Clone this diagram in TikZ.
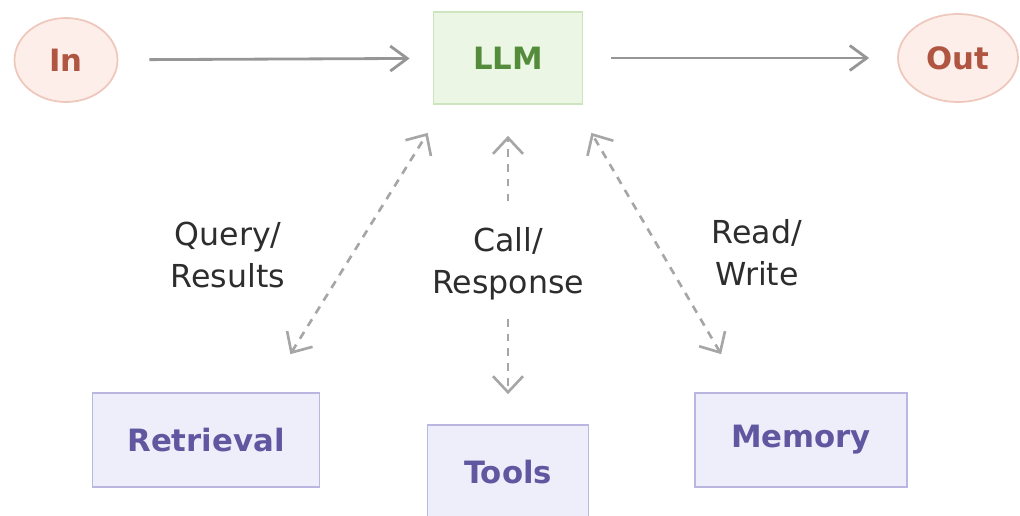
\documentclass[tikz,border=0pt]{standalone}
\usepackage{fontspec}
\setmainfont{DejaVu Sans}
\usepackage{tikz}
\usetikzlibrary{shapes.geometric, arrows.meta, positioning, calc}
\definecolor{termfill}{RGB}{253, 238, 233}
\definecolor{termline}{RGB}{238, 200, 188}
\definecolor{termtext}{RGB}{175, 85, 65}
\definecolor{llmfill}{RGB}{236, 246, 228}
\definecolor{llmline}{RGB}{205, 228, 190}
\definecolor{llmtext}{RGB}{85, 140, 60}
\definecolor{toolfill}{RGB}{238, 237, 250}
\definecolor{toolline}{RGB}{185, 182, 225}
\definecolor{tooltext}{RGB}{95, 88, 160}
\definecolor{arrgray}{RGB}{150, 150, 150}
\definecolor{lblgray}{RGB}{45, 45, 45}

\begin{document}
\begin{tikzpicture}[
    x=0.02cm, y=-0.02cm,
    term/.style={ellipse, draw=termline, fill=termfill, line width=1pt,
                 inner sep=0pt, text=termtext,
                 font=\fontsize{17.5}{22}\selectfont\bfseries},
    core/.style={draw=llmline, fill=llmfill, line width=1pt, inner sep=0pt,
                 text=llmtext, font=\fontsize{17.5}{22}\selectfont\bfseries},
    tool/.style={draw=toolline, fill=toolfill, line width=1pt, inner sep=0pt,
                 text=tooltext, font=\fontsize{17.5}{22}\selectfont\bfseries,
                 minimum height=1.88cm},
    lbl/.style={align=center, text=lblgray, font=\fontsize{18}{24}\selectfont},
    arr/.style={-{Straight Barb[length=3.4mm, width=5mm]}, line width=1.6pt,
                color=arrgray},
    darr/.style={-{Straight Barb[length=3.2mm, width=6mm]}, line width=1.5pt,
                 color=arrgray!85, dash pattern=on 4.5pt off 4pt},
    ddarr/.style={darr, {Straight Barb[length=3.2mm, width=6mm]}-{Straight Barb[length=3.2mm, width=6mm]}},
]
    \useasboundingbox (0,0) rectangle (1020,515);

    \node[term, minimum width=2.06cm, minimum height=1.68cm] (in)  at (66,60)  {In};
    \node[core, minimum width=2.98cm, minimum height=1.84cm] (llm) at (508,58) {LLM};
    \node[term, minimum width=2.4cm,  minimum height=1.76cm] (out) at (958,58) {Out};

    \node[tool, minimum width=4.54cm] (ret) at (206,440) {Retrieval};
    \node[tool, minimum width=3.22cm] (tls) at (508,472) {Tools};
    \node[tool, minimum width=4.24cm] (mem) at (801,440) {Memory};

    \node[lbl] (qr)   at (228,255) {Query/\\Results};
    \node[lbl] (call) at (508,264) {Call/\\Response};
    \node[lbl] (rw)   at (757,253) {Read/\\Write};

    \draw[arr, shorten <=0.62cm, shorten >=0.46cm] (in) -- (llm);
    \draw[arr, shorten <=0.56cm, shorten >=0.56cm] (llm) -- (out);

    \draw[ddarr] ([shift={(-30,-38)}]ret.north east) -- ([shift={(-5,28)}]llm.south west);
    \draw[darr] ([shift={(0,-20)}]call.north) -- ([shift={(0,31)}]llm.south);
    \draw[darr] ([shift={(0,12)}]call.south) -- ([shift={(0,-30)}]tls.north);
    \draw[ddarr] ([shift={(27,-38)}]mem.north west) -- ([shift={(8,28)}]llm.south east);
\end{tikzpicture}
\end{document}
